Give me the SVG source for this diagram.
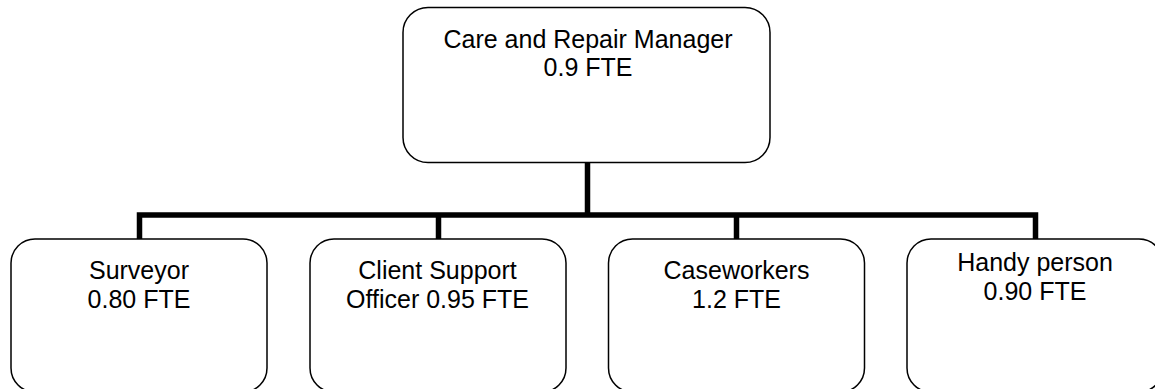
<svg xmlns="http://www.w3.org/2000/svg" width="1155" height="389" viewBox="0 0 1155 389">
  <style>
    .box { fill: #ffffff; stroke: #000000; stroke-width: 1.5; }
    .lbl { font-family: "Liberation Sans", Arial, sans-serif; font-size: 25px; fill: #000000; text-anchor: middle; }
    .conn { fill: none; stroke: #000000; stroke-width: 5.5; stroke-linejoin: miter; stroke-linecap: butt; }
  </style>
  <rect width="1155" height="389" fill="#ffffff"/>

  <!-- connectors: trunk from manager down to the bus, bus, and drops to each post -->
  <g id="connectors">
    <path class="conn" d="M587.5 162 V215"/>
    <path class="conn" d="M139.5 239 V215 H1035.5 V239"/>
    <path class="conn" d="M438.5 215 V239"/>
    <path class="conn" d="M736.5 215 V239"/>
  </g>

  <g id="manager">
    <rect class="box" x="403" y="7.5" width="367" height="155" rx="25" ry="25"/>
    <text class="lbl" x="588" y="48">Care and Repair Manager</text>
    <text class="lbl" x="588" y="76">0.9 FTE</text>
  </g>

  <g id="surveyor">
    <rect class="box" x="11" y="239" width="256" height="153" rx="24" ry="24"/>
    <text class="lbl" x="139" y="279">Surveyor</text>
    <text class="lbl" x="139" y="307.5">0.80 FTE</text>
  </g>

  <g id="client-support">
    <rect class="box" x="310" y="239" width="256" height="153" rx="24" ry="24"/>
    <text class="lbl" x="437.5" y="279">Client Support</text>
    <text class="lbl" x="437.5" y="307.5">Officer 0.95 FTE</text>
  </g>

  <g id="caseworkers">
    <rect class="box" x="608.5" y="239" width="256" height="153" rx="24" ry="24"/>
    <text class="lbl" x="736.5" y="279">Caseworkers</text>
    <text class="lbl" x="736.5" y="307.5">1.2 FTE</text>
  </g>

  <g id="handy-person">
    <rect class="box" x="907" y="239" width="256" height="153" rx="24" ry="24"/>
    <text class="lbl" x="1035" y="271">Handy person</text>
    <text class="lbl" x="1035" y="299.5">0.90 FTE</text>
  </g>
</svg>
